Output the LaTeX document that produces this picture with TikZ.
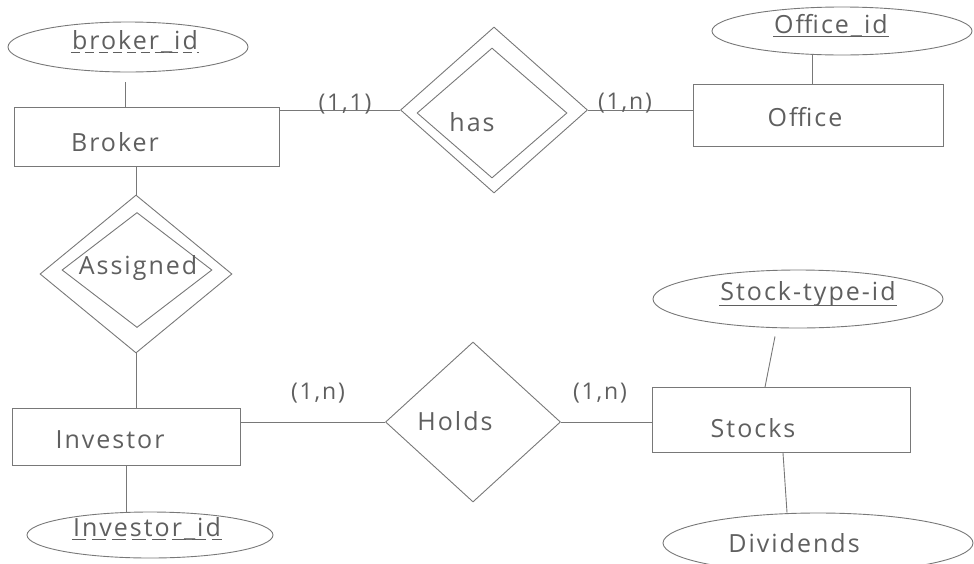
\documentclass[tikz,border=0pt]{standalone}
\usepackage{fontspec}
\setmainfont{Open Sans}[LetterSpace=8]
\usetikzlibrary{shapes.geometric,calc}
\definecolor{pencil}{RGB}{120,120,120}
\definecolor{penciltext}{RGB}{95,95,95}
\tikzset{
  every node/.style={text=penciltext, font=\fontsize{25}{29}\selectfont},
  entity/.style={draw=pencil, line width=0.9pt, rectangle, inner sep=0pt},
  attrib/.style={draw=pencil, line width=0.9pt, ellipse, inner sep=0pt},
  rel/.style={draw=pencil, line width=0.9pt, diamond, inner sep=0pt},
  txt/.style={inner sep=1pt},
  card/.style={inner sep=0pt, font=\fontsize{23}{27}\selectfont},
  link/.style={draw=pencil, line width=0.9pt},
  uline/.style={draw=penciltext, line width=0.9pt},
}
\begin{document}
\begin{tikzpicture}[x=1pt,y=-1pt]
\useasboundingbox (0,0) rectangle (974,563);

% entities
\node[entity, minimum width=265pt, minimum height=59pt] (broker) at (147,137) {};
\node[txt] at (115,142) {Broker};
\node[entity, minimum width=250pt, minimum height=62pt] (office) at (818,115) {};
\node[txt] at (805,117) {Office};
\node[entity, minimum width=228pt, minimum height=57pt] (investor) at (126,437) {};
\node[txt] at (110,440) {Investor};
\node[entity, minimum width=258pt, minimum height=65pt] (stocks) at (781,420) {};
\node[txt] at (753,428) {Stocks};

% attributes
\node[attrib, minimum width=240pt, minimum height=50pt] (brokerid) at (128,47) {};
\node[txt] (brokeridt) at (135,42) {broker\_id};
\draw[uline, dash pattern=on 9pt off 5pt] ([yshift=2pt]brokeridt.south west) -- ([yshift=2pt]brokeridt.south east);

\node[attrib, minimum width=260pt, minimum height=48pt] (officeid) at (842,31) {};
\node[txt] (officeidt) at (831,26) {Office\_id};
\draw[uline] ([yshift=2pt]officeidt.south west) -- ([yshift=2pt]officeidt.south east);

\node[attrib, minimum width=246pt, minimum height=46pt] (investorid) at (150,535) {};
\node[txt] (investoridt) at (147,529) {Investor\_id};
\draw[uline, dash pattern=on 14pt off 6pt] ([yshift=2pt]investoridt.south west) -- ([yshift=2pt]investoridt.south east);

\node[attrib, minimum width=290pt, minimum height=58pt] (stockid) at (798,299) {};
\node[txt] (stockidt) at (808,294) {Stock-type-id};
\draw[uline] ([yshift=2pt]stockidt.south west) -- ([yshift=2pt]stockidt.south east);

\node[attrib, minimum width=310pt, minimum height=60pt] (dividends) at (818,543) {};
\node[txt] at (794,543) {Dividends};

% relationships (identifying ones drawn with a double outline)
\node[rel, minimum width=187pt, minimum height=166pt] (hasout) at (494,110) {};
\node[rel, minimum width=150pt, minimum height=130pt] (has) at (492,113) {};
\node[txt] at (472,122) {has};

\node[rel, minimum width=192pt, minimum height=158pt] (assignedout) at (136,274) {};
\node[rel, minimum width=150pt, minimum height=115pt] (assigned) at (137,270) {};
\node[txt] at (138,268) {Assigned};

\node[rel, minimum width=175pt, minimum height=160pt] (holds) at (473,422) {};
\node[txt] at (455,421) {Holds};

% connectors
\draw[link] ($(brokerid.south)+(-3,10)$) coordinate (a1) -- (a1 |- broker.north);
\draw[link] ($(officeid.south)+(-30,0)$) coordinate (a2) -- (a2 |- office.north);
\draw[link] (investor.south) -- (investorid.north -| investor.south);
\draw[link] ($(stockid.south)+(-23,8)$) -- ($(stocks.north)+(-16,0)$);
\draw[link] ($(stocks.south)+(2,0)$) -- ($(dividends.north)+(-31,0)$);

\draw[link] (broker.east |- hasout.west) -- (hasout.west);
\draw[link] (hasout.east) -- (office.west |- hasout.east);
\draw[link] (assignedout.north |- broker.south) -- (assignedout.north);
\draw[link] (assignedout.south) -- (assignedout.south |- investor.north);
\draw[link] (investor.east |- holds.west) -- (holds.west);
\draw[link] (holds.east) -- (stocks.west |- holds.east);

% cardinalities
\node[card] (c1) at (345,104) {(1,1)};
\node[card] (c2) at (625,103) {(1,n)};
\node[card] (c3) at (318,393) {(1,n)};
\node[card] (c4) at (600,393) {(1,n)};
\end{tikzpicture}
\end{document}
